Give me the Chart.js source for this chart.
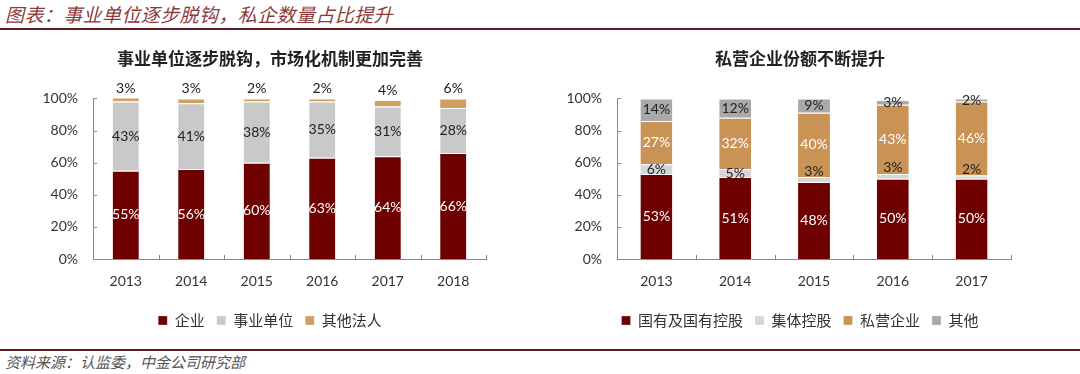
<!DOCTYPE html>
<html>
<head>
<meta charset="utf-8">
<script src="https://cdn.jsdelivr.net/npm/chart.js@4.4.1/dist/chart.umd.min.js"></script>
<style>
  body { margin: 0; width: 1080px; height: 374px; background: #fff; position: relative; overflow: hidden; font-family: "Noto Sans CJK SC", sans-serif; }
  .hdr { position: absolute; left: 5px; top: 0; font-size: 19px; letter-spacing: 0.4px; font-style: italic; color: #8c3b3b; }
  .rule { position: absolute; left: 0; width: 1080px; height: 2px; background: #5e1b22; }
  .src { position: absolute; left: 5px; top: 351px; font-size: 15px; font-style: italic; color: #555; }
  .box { position: absolute; top: 38px; width: 540px; height: 300px; }
</style>
</head>
<body>
<div class="hdr">图表：事业单位逐步脱钩，私企数量占比提升</div>
<div class="rule" style="top:28px"></div>
<div class="box" style="left:0"><canvas id="leftChart"></canvas></div>
<div class="box" style="left:540px"><canvas id="rightChart"></canvas></div>
<div class="rule" style="top:349px"></div>
<div class="src">资料来源：认监委，中金公司研究部</div>

<script>
// ===== DATA =====
const years1 = ["2013", "2014", "2015", "2016", "2017", "2018"];
const qiye = [55, 56, 60, 63, 64, 66];        // 企业
const shiye = [43, 41, 38, 35, 31, 28];       // 事业单位
const qitaFaren = [3, 3, 2, 2, 4, 6];         // 其他法人

const years2 = ["2013", "2014", "2015", "2016", "2017"];
const guoyou = [53, 51, 48, 50, 50];          // 国有及国有控股
const jiti = [6, 5, 3, 3, 2];                 // 集体控股
const siying = [27, 32, 40, 43, 46];          // 私营企业
const qita = [14, 12, 9, 3, 2];               // 其他

const yTicks = [0, 20, 40, 60, 80, 100];

// ===== PLUGINS =====
// percent labels on each segment
const segLabels = {
  id: "segLabels",
  afterDatasetsDraw(chart) {
    const ctx = chart.ctx;
    const area = chart.chartArea;
    ctx.save();
    ctx.font = "14px Lato";
    ctx.textAlign = "center";
    ctx.textBaseline = "middle";
    chart.data.datasets.forEach((ds, i) => {
      chart.getDatasetMeta(i).data.forEach((bar, j) => {
        const top = Math.max(bar.y, area.top);
        let y = (top + bar.base) / 2;
        if (ds.labelAbove) y = top - 10;
        // thin segments: label nudged up a little, as in the original
        if (ds.nudgeSmall && bar.base - top < 6) y = top - 6;
        ctx.fillStyle = ds.labelColor;
        ctx.fillText(ds.data[j] + "%", bar.x, y);
      });
    });
    ctx.restore();
  }
};

// small inside tick marks like the original
const axisTicks = {
  id: "axisTicks",
  afterDraw(chart) {
    const { ctx, chartArea: a, scales: { x, y } } = chart;
    ctx.save();
    ctx.strokeStyle = "#8a8a8a";
    ctx.lineWidth = 1;
    ctx.beginPath();
    yTicks.forEach(v => {
      const py = Math.round(y.getPixelForValue(v)) + 0.5;
      ctx.moveTo(a.left, py);
      ctx.lineTo(a.left + 4, py);
    });
    const n = x.ticks.length;
    for (let k = 1; k <= n; k++) {
      const px = Math.round(a.left + (a.right - a.left) * k / n) + 0.5;
      ctx.moveTo(px, a.bottom);
      ctx.lineTo(px, a.bottom - 4);
    }
    ctx.stroke();
    ctx.restore();
  }
};

// yWidth: left axis box, spacer: empty right axis so title/legend centre like the original
function makeOptions(title, yWidth, spacer, padRight) {
  return {
    responsive: true,
    maintainAspectRatio: false,
    animation: false,
    layout: { padding: { left: 0, right: padRight, top: 0, bottom: 0 } },
    plugins: {
      title: {
        display: true,
        text: title,
        color: "#222",
        font: { family: "Noto Sans CJK SC", size: 17, weight: "bold" },
        padding: { top: 10, bottom: 30 }
      },
      legend: {
        position: "bottom",
        labels: {
          boxWidth: 9,
          boxHeight: 9,
          padding: 12,
          color: "#333",
          font: { family: "Noto Sans CJK SC", size: 15 }
        }
      },
      tooltip: { enabled: false }
    },
    scales: {
      x: {
        stacked: true,
        afterFit: s => { s.height = 42; },
        grid: { display: false },
        border: { display: true, color: "#8a8a8a" },
        ticks: { color: "#333", padding: 6, font: { family: "Lato", size: 14 } }
      },
      y: {
        stacked: true,
        min: 0,
        max: 100,
        afterFit: s => { s.width = yWidth; },
        grid: { display: false },
        border: { display: true, color: "#8a8a8a" },
        ticks: {
          stepSize: 20,
          padding: 7,
          color: "#333",
          font: { family: "Lato", size: 14 },
          callback: v => v + "%"
        }
      },
      spacer: {
        type: "linear",
        position: "right",
        afterFit: s => { s.width = spacer; },
        grid: { display: false },
        border: { display: false },
        ticks: { display: false }
      }
    }
  };
}

const barStyle = { categoryPercentage: 1, borderColor: "#fff", borderWidth: { top: 1 }, borderSkipped: "bottom" };

// ===== LEFT CHART =====
new Chart(document.getElementById("leftChart"), {
  type: "bar",
  data: {
    labels: years1,
    datasets: [
      { ...barStyle, label: "企业", data: qiye, backgroundColor: "#6e0000", labelColor: "#fff", barPercentage: 0.4 },
      { ...barStyle, label: "事业单位", data: shiye, backgroundColor: "#c9c9c9", labelColor: "#222", barPercentage: 0.4 },
      { ...barStyle, label: "其他法人", data: qitaFaren, backgroundColor: "#cfa060", labelColor: "#222", labelAbove: true, barPercentage: 0.4 }
    ]
  },
  options: makeOptions("事业单位逐步脱钩，市场化机制更加完善", 93, 54, 0),
  plugins: [segLabels, axisTicks]
});

// ===== RIGHT CHART =====
new Chart(document.getElementById("rightChart"), {
  type: "bar",
  data: {
    labels: years2,
    datasets: [
      { ...barStyle, label: "国有及国有控股", data: guoyou, backgroundColor: "#6e0000", labelColor: "#fff", barPercentage: 0.405 },
      { ...barStyle, label: "集体控股", data: jiti, backgroundColor: "#d6d6da", labelColor: "#222", nudgeSmall: true, barPercentage: 0.405 },
      { ...barStyle, label: "私营企业", data: siying, backgroundColor: "#c99355", labelColor: "#fff", barPercentage: 0.405 },
      { ...barStyle, label: "其他", data: qita, backgroundColor: "#a9a9a9", labelColor: "#222", barPercentage: 0.405 }
    ]
  },
  options: makeOptions("私营企业份额不断提升", 77, 49, 20),
  plugins: [segLabels, axisTicks]
});
</script>
</body>
</html>
